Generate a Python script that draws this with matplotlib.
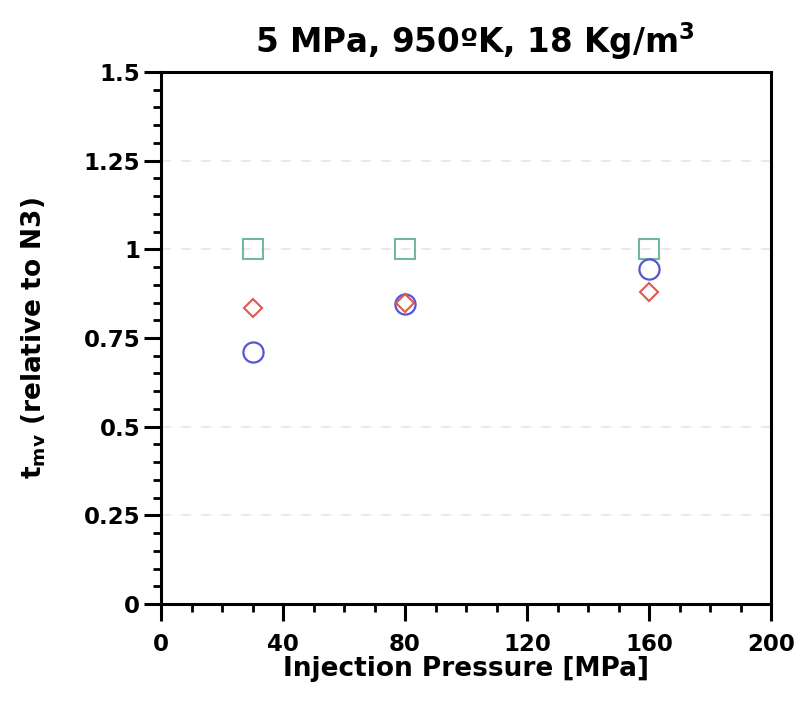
import matplotlib
matplotlib.use("Agg")
import matplotlib.pyplot as plt
from matplotlib.ticker import MultipleLocator, FixedFormatter, FixedLocator

pressure = [30, 80, 160]
square_vals = [1.0, 1.0, 1.0]
diamond_vals = [0.835, 0.85, 0.88]
circle_vals = [0.71, 0.846, 0.945]

title = "5 MPa, 950ºK, 18 Kg/m$^{3}$"
xlabel = "Injection Pressure [MPa]"
ylabel = "t$_{\\mathregular{mv}}$ (relative to N3)"
yticks = [0, 0.25, 0.5, 0.75, 1, 1.25, 1.5]
ytick_labels = ["0", "0.25", "0.5", "0.75", "1", "1.25", "1.5"]
xticks = [0, 40, 80, 120, 160, 200]
xtick_labels = ["0", "40", "80", "120", "160", "200"]

plt.rcParams['font.family'] = ['DejaVu Sans']
plt.rcParams['mathtext.fontset'] = 'custom'
plt.rcParams['mathtext.rm'] = 'DejaVu Sans:bold'
plt.rcParams['mathtext.default'] = 'regular'

fig = plt.figure(figsize=(7.96, 7.12), dpi=100)
ax = fig.add_axes([0.2023, 0.1517, 0.9686 - 0.2023, 0.8989 - 0.1517])

ax.set_xlim(0, 200)
ax.set_ylim(0, 1.5)

for y in [0.25, 0.5, 1.0, 1.25]:
    ax.axhline(y, color='#e6e6e6', lw=1.2, ls=(0, (6, 6)), zorder=0)

ax.plot(pressure, square_vals, ls='none', marker='s', ms=14, mfc='none',
        mec='#72b89c', mew=1.5, zorder=3)
ax.plot(pressure, circle_vals, ls='none', marker='o', ms=14.5, mfc='none',
        mec='#5656d2', mew=1.6, zorder=3)
ax.plot(pressure, diamond_vals, ls='none', marker='D', ms=9.5, mfc='none',
        mec='#de5a4e', mew=1.5, zorder=4)

ax.yaxis.set_major_locator(FixedLocator(yticks))
ax.yaxis.set_major_formatter(FixedFormatter(ytick_labels))
ax.yaxis.set_minor_locator(MultipleLocator(0.05))
ax.xaxis.set_major_locator(FixedLocator(xticks))
ax.xaxis.set_major_formatter(FixedFormatter(xtick_labels))
ax.xaxis.set_minor_locator(MultipleLocator(10))

ax.tick_params(axis='both', which='major', direction='out', length=12, width=2.2,
               labelsize=16.5, pad=3)
ax.tick_params(axis='both', which='minor', direction='out', length=6, width=2)
ax.tick_params(axis='x', which='major', pad=9)
for lbl in ax.get_xticklabels() + ax.get_yticklabels():
    lbl.set_fontweight('bold')

for s in ax.spines.values():
    s.set_linewidth(2.2)

ax.set_title(title, fontsize=23.5, fontweight='bold', pad=14, x=0.515)
ax.set_xlabel(xlabel, fontsize=19, fontweight='bold', labelpad=0)
ax.set_ylabel(ylabel, fontsize=19, fontweight='bold')
ax.yaxis.set_label_coords(-0.185, 0.5)

fig.savefig("out.png", dpi=100)
